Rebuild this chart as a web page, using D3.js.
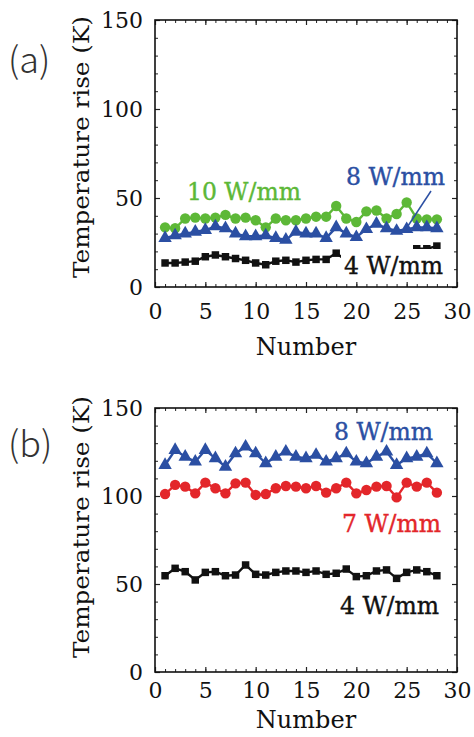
<!DOCTYPE html>
<html>
<head>
<meta charset="utf-8">
<script src="https://cdn.jsdelivr.net/npm/d3@7"></script>
<style>
  body { margin: 0; background: #fff; }
  svg { display: block; }
</style>
</head>
<body>
<div id="chart"></div>
<script>
// sample numbers 1..28
const numbers = d3.range(1, 29);

// panel (a)
const a_4W = [13.5, 13.5, 14, 14.5, 17, 18, 17, 16, 15, 13.5, 12.5, 14.5, 15, 14,
              15, 15.5, 15.5, 19, 15, 15, 15, 15, 15, 15, 15, 21.5, 21.5, 23];
const a_8W = [27.5, 29, 30, 31, 32, 34, 33, 30, 28.5, 28.5, 29, 27.5, 26.5, 31,
              30, 30, 27.5, 33.5, 30, 28, 32.5, 35.5, 33, 31.5, 32.5, 33.5, 33.5, 33];
const a_10W = [33.5, 33, 38.5, 39, 38.5, 39, 40.5, 38.5, 39, 37.5, 33.5, 38.5, 37.5, 37.5,
               38.5, 39.5, 39.5, 45.5, 38.5, 36.5, 42.5, 43, 38.5, 41, 47.5, 38.5, 38, 38];

// panel (b)
const b_4W = [54.7, 58.9, 57, 52.3, 56.6, 57, 54.7, 55.1, 60.8, 55.5, 55.1, 56.6, 57.4, 57.4,
              56.6, 57.4, 55.5, 56.1, 58.5, 54.2, 54.7, 57.4, 58, 53.2, 56.6, 58, 57, 54.7];
const b_7W = [101.1, 106.3, 105.3, 101.5, 107.6, 104.4, 101.5, 107.2, 107.6, 100.6, 101.1, 104.4, 105.7, 105.3,
              104.4, 105.7, 101.9, 104.4, 107.6, 101.5, 103.4, 105.3, 105.7, 99.2, 107.6, 105.3, 107.6, 101.9];
const b_8W = [117.6, 126.1, 122.3, 119.5, 126.1, 121.4, 116.6, 124.2, 128, 124.2, 118.6, 122.3, 125.2, 122.3,
              121.4, 123.3, 119.5, 121.4, 124.2, 119.5, 118.6, 122.3, 125.2, 117.6, 121.4, 122.3, 124.2, 118.6];

const xTicks = [0, 5, 10, 15, 20, 25, 30];
const yTicks = [0, 50, 100, 150];

const W = 474, H = 737;
const serif = '"DejaVu Serif", "Liberation Serif", serif';

const svg = d3.select('#chart')
    .append('svg')
    .attr('width', W)
    .attr('height', H);

const green = '#5db837', blue = '#2b4fa3', red = '#e3262a', black = '#111';

const panels = [
    {
        tag: '(a)', top: 20, bottom: 287, tagY: 73, titleY: 147, pad: 16, numY: 355,
        series: [
            {values: a_10W, color: green, shape: 'circle'},
            {values: a_8W, color: blue, shape: 'triangle'},
            {values: a_4W, color: black, shape: 'square'}
        ],
        labels: [
            {text: '10 W/mm', x: 187, y: 200, color: green},
            {text: '8 W/mm', x: 346, y: 185, color: blue},
            {text: '4 W/mm', x: 344, y: 274, color: black, box: true}
        ],
        arrow: true
    },
    {
        tag: '(b)', top: 408, bottom: 672, tagY: 457, titleY: 527, pad: 10, numY: 728,
        series: [
            {values: b_8W, color: blue, shape: 'triangle'},
            {values: b_7W, color: red, shape: 'circle'},
            {values: b_4W, color: black, shape: 'square'}
        ],
        labels: [
            {text: '8 W/mm', x: 334, y: 440, color: blue},
            {text: '7 W/mm', x: 342, y: 532, color: red},
            {text: '4 W/mm', x: 340, y: 614, color: black}
        ]
    }
];

panels.forEach(p => {
    const x = d3.scaleLinear().domain([0, 30]).range([155, 457]);
    const y = d3.scaleLinear().domain([0, 150]).range([p.bottom, p.top]);
    const g = svg.append('g');

    // minor ticks on all four sides
    const minor = [
        [d3.axisBottom(x).tickValues(d3.range(0, 31)), `translate(0,${p.bottom})`],
        [d3.axisTop(x).tickValues(d3.range(0, 31)), `translate(0,${p.top})`],
        [d3.axisLeft(y).tickValues(d3.range(0, 151, 10)), 'translate(155,0)'],
        [d3.axisRight(y).tickValues(d3.range(0, 151, 10)), 'translate(457,0)']
    ];
    minor.forEach(([ax, tr]) => {
        g.append('g').attr('transform', tr)
            .call(ax.tickSize(-3).tickFormat(''))
            .call(a => a.select('.domain').remove())
            .selectAll('line').attr('stroke', '#222').attr('stroke-width', 1);
    });

    // major ticks with labels
    g.append('g').attr('transform', `translate(0,${p.bottom})`)
        .call(d3.axisBottom(x).tickValues(xTicks).tickSize(-5).tickPadding(p.pad))
        .call(a => a.select('.domain').remove())
        .call(a => a.selectAll('text').style('font-family', serif).style('font-size', '22px').attr('fill', '#111'))
        .selectAll('line').attr('stroke', '#222').attr('stroke-width', 1.2);
    g.append('g').attr('transform', `translate(0,${p.top})`)
        .call(d3.axisTop(x).tickValues(xTicks).tickSize(-5).tickFormat(''))
        .call(a => a.select('.domain').remove())
        .selectAll('line').attr('stroke', '#222').attr('stroke-width', 1.2);
    g.append('g').attr('transform', 'translate(155,0)')
        .call(d3.axisLeft(y).tickValues(yTicks).tickSize(-5).tickPadding(12))
        .call(a => a.select('.domain').remove())
        .call(a => a.selectAll('text').style('font-family', serif).style('font-size', '22px').attr('fill', '#111'))
        .selectAll('line').attr('stroke', '#222').attr('stroke-width', 1.2);
    g.append('g').attr('transform', 'translate(457,0)')
        .call(d3.axisRight(y).tickValues(yTicks).tickSize(-5).tickFormat(''))
        .call(a => a.select('.domain').remove())
        .selectAll('line').attr('stroke', '#222').attr('stroke-width', 1.2);

    // frame
    g.append('rect')
        .attr('x', x(0)).attr('y', y(150))
        .attr('width', x(30) - x(0)).attr('height', y(0) - y(150))
        .attr('fill', 'none').attr('stroke', '#111').attr('stroke-width', 1.6);

    // series
    const line = d3.line().x((d, i) => x(numbers[i])).y(d => y(d));
    p.series.forEach(s => {
        g.append('path')
            .datum(s.values)
            .attr('d', line)
            .attr('fill', 'none')
            .attr('stroke', s.color)
            .attr('stroke-width', 2.4);
        const sym = s.shape === 'circle' ? d3.symbolCircle
                  : s.shape === 'triangle' ? d3.symbolTriangle : d3.symbolSquare;
        const size = s.shape === 'circle' ? 85 : s.shape === 'triangle' ? 78 : 56;
        g.selectAll(null)
            .data(s.values)
            .join('path')
            .attr('transform', (d, i) => `translate(${x(numbers[i])},${y(d)})`)
            .attr('d', d3.symbol(sym, size))
            .attr('fill', s.color);
    });

    if (p.arrow) {
        g.append('line')
            .attr('x1', 431).attr('y1', 191)
            .attr('x2', 406).attr('y2', 229)
            .attr('stroke', blue).attr('stroke-width', 1.5);
    }

    // series labels
    p.labels.forEach(l => {
        if (l.box) {
            g.append('rect')
                .attr('x', l.x - 3).attr('y', 249)
                .attr('width', 110).attr('height', 30)
                .attr('fill', '#fff');
        }
        g.append('text')
            .text(l.text)
            .attr('x', l.x).attr('y', l.y)
            .attr('fill', l.color)
            .attr('stroke', l.color)
            .attr('stroke-width', 0.4)
            .style('font-family', serif)
            .style('font-size', '23.5px');
    });

    // y title
    g.append('text')
        .text('Temperature rise (K)')
        .attr('transform', `translate(89,${p.titleY}) rotate(-90)`)
        .attr('text-anchor', 'middle')
        .attr('fill', '#111')
        .style('font-family', serif)
        .style('font-size', '22px')
        .attr('textLength', 262)
        .attr('lengthAdjust', 'spacingAndGlyphs');

    // x title
    g.append('text')
        .text('Number')
        .attr('x', 306).attr('y', p.numY)
        .attr('text-anchor', 'middle')
        .attr('fill', '#111')
        .style('font-family', serif)
        .style('font-size', '24px');

    // panel tag
    g.append('text')
        .text(p.tag)
        .attr('x', 8).attr('y', p.tagY)
        .attr('fill', '#333')
        .style('font-family', '"Noto Sans CJK JP", "Noto Sans", sans-serif')
        .style('font-weight', 300)
        .style('font-size', '36px');
});
</script>
</body>
</html>
